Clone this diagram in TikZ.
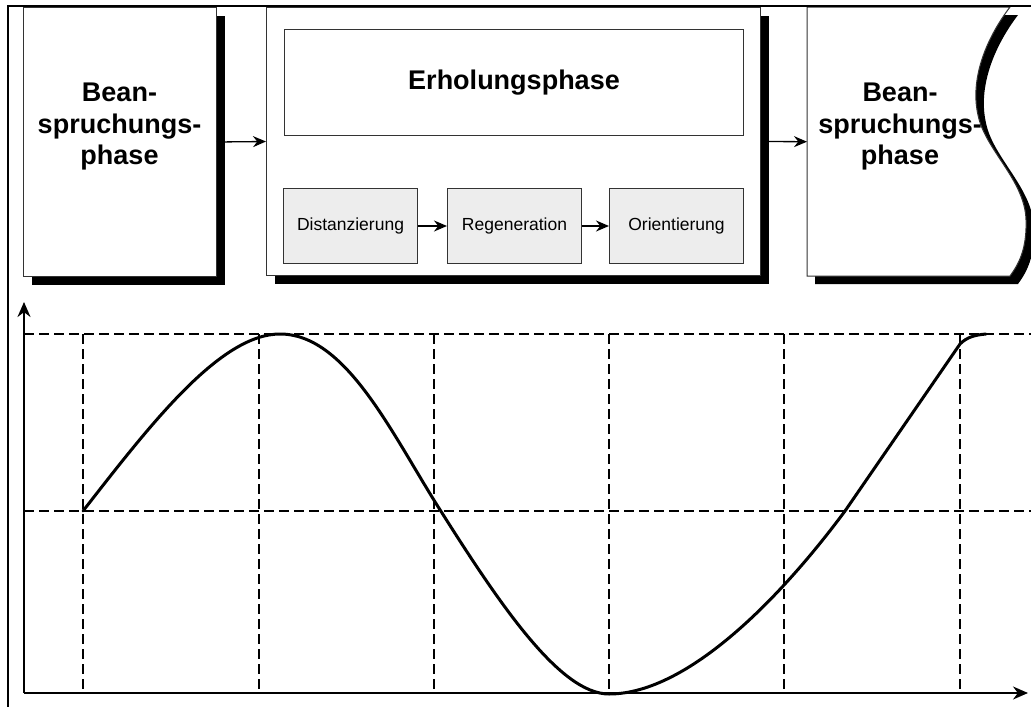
\documentclass[tikz,border=0pt]{standalone}
\usepackage{fontspec}
\setmainfont{Liberation Sans}
\usetikzlibrary{arrows.meta,shadows}

% outline of the phase box with the torn (wavy) right edge
\def\tornbox{(807,7) -- (1010,7)
  .. controls (985,40) and (970,80) .. (978,115)
  .. controls (985,150) and (1025,180) .. (1026,220)
  .. controls (1027,250) and (1018,265) .. (1010,276)
  -- (807,276) -- cycle}

\begin{document}
\begin{tikzpicture}[x=1pt,y=-1pt,
  box/.style={draw=black!80, line width=1pt, fill=white, inner sep=0pt},
  shadowed/.style={general shadow={fill=black, shadow xshift=8pt, shadow yshift=-8pt}},
  subbox/.style={draw=black!80, line width=1pt, fill=black!7, inner sep=0pt,
    minimum width=134pt, minimum height=75pt, anchor=north west,
    font=\fontsize{17.5}{21}\selectfont},
  bigtext/.style={font=\bfseries\fontsize{27}{31.5}\selectfont, align=center, inner sep=0pt},
  flow/.style={-{Stealth[length=13pt,width=11pt]}, line width=1.3pt},
  axis/.style={-{Stealth[length=15pt,width=13pt]}, line width=2pt},
  guide/.style={dash pattern=on 10pt off 5pt, line width=1.3pt},
  wave/.style={line width=3pt, line join=round, line cap=round}
]
\useasboundingbox (0,0) rectangle (1031,707);

% ---- upper part: phase boxes ----
\node[box, shadowed, anchor=north west, minimum width=193pt, minimum height=269pt] (load1) at (23,7) {};
\node[bigtext] (load1t) at (119.5,127) {Bean-\\spruchungs-\\phase};

\node[box, shadowed, anchor=north west, minimum width=494pt, minimum height=268pt] (rest) at (266,7) {};
\node[box, anchor=north west, minimum width=459pt, minimum height=106pt] (rec) at (284,29) {};
\node[bigtext] (rect) at (rec.center) {Erholungsphase};

\node[subbox] (dist) at (283,188) {Distanzierung};
\node[subbox] (regen) at (447,188) {Regeneration};
\node[subbox] (orient) at (609,188) {Orientierung};

% second load phase with torn edge and its shadow
\fill[black, shift={(8,8)}] \tornbox;
\draw[box] \tornbox;
\node[anchor=north west, minimum width=200pt, minimum height=269pt, inner sep=0pt] (load2) at (807,7) {};
\node[bigtext] (load2t) at (900,127) {Bean-\\spruchungs-\\phase};

% flow arrows
\draw[flow] (load1.east) -- (rest.west);
\draw[flow] (rest.east) -- (load2.west);
\draw[flow] (dist.east) -- (regen.west);
\draw[flow] (regen.east) -- (orient.west);

% outer frame (top and left edges)
\draw[line width=2.6pt] (7,6) -- (1031,6);
\draw[line width=2pt] (8,5) -- (8,707);

% ---- lower part: course of the strain ----
\coordinate (origin) at (24,693);
\coordinate (ytip) at (24,302);
\coordinate (xtip) at (1028,693);

\foreach \y in {334,511}
  \draw[guide] (24,\y) -- (1031,\y);
\foreach \x in {83,259,434,609,784,960}
  \draw[guide] (\x,334) -- (\x,693);

\draw[axis] (origin) -- (ytip);
\draw[axis] (origin) -- (xtip);

\draw[wave] (83,511)
  .. controls (150,425) and (220,334) .. (280,334)
  .. controls (345,334) and (390,430) .. (437,505)
  .. controls (500,605) and (560,694) .. (609,694)
  .. controls (690,694) and (785,592) .. (845,511)
  -- (960,344)
  .. controls (967,337) and (975,335) .. (986,334);

\end{tikzpicture}
\end{document}
